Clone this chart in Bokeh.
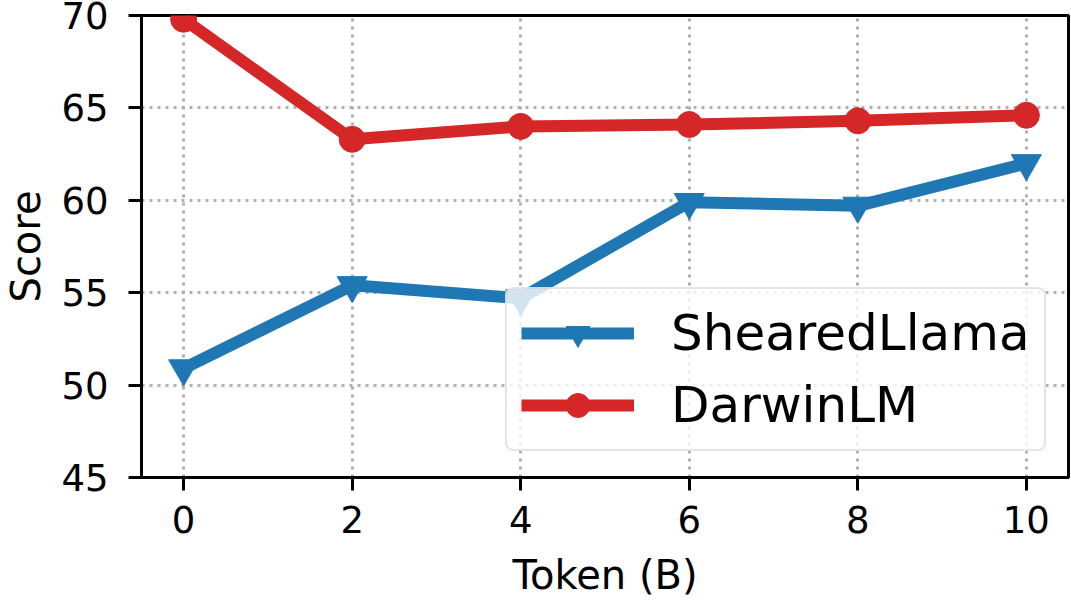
from bokeh.plotting import figure
from bokeh.models import Range1d, FixedTicker, Legend, LegendItem
from bokeh.embed import file_html
from bokeh.resources import INLINE

tokens = [0, 2, 4, 6, 8, 10]
sheared_llama = [50.9, 55.4, 54.7, 59.9, 59.7, 62.0]
darwin_lm = [69.8, 63.3, 64.0, 64.1, 64.3, 64.6]
x_ticks = [0, 2, 4, 6, 8, 10]
y_ticks = [45, 50, 55, 60, 65, 70]

FONT = "DejaVu Sans"
BLUE = "#1f77b4"
RED = "#d62728"

p = figure(width=1071, height=601, output_backend="svg", toolbar_location=None,
           x_range=Range1d(-0.5, 10.5), y_range=Range1d(45, 70),
           min_border_left=138, min_border_right=3, min_border_top=15, min_border_bottom=124)

p.background_fill_color = "white"
p.border_fill_color = "white"
p.outline_line_color = "black"
p.outline_line_width = 3

for ax in (p.xaxis[0], p.yaxis[0]):
    ax.axis_line_width = 3
    ax.axis_line_color = "black"
    ax.major_tick_line_width = 3
    ax.major_tick_line_color = "black"
    ax.major_tick_out = 13
    ax.major_tick_in = 0
    ax.minor_tick_line_color = None
    ax.major_label_text_font = FONT
    ax.major_label_text_font_size = "37px"
    ax.major_label_text_color = "black"
    ax.axis_label_text_font = FONT
    ax.axis_label_text_font_size = "40px"
    ax.axis_label_text_font_style = "normal"
    ax.axis_label_text_color = "black"

p.xaxis.ticker = FixedTicker(ticks=x_ticks)
p.yaxis.ticker = FixedTicker(ticks=y_ticks)
p.xaxis.axis_label = "Token (B)"
p.yaxis.axis_label = "Score"
p.xaxis.major_label_standoff = 15
p.yaxis.major_label_standoff = 20
p.xaxis.axis_label_standoff = 16
p.yaxis.axis_label_standoff = 9

for g in (p.xgrid[0], p.ygrid[0]):
    g.grid_line_color = "#b0b0b0"
    g.grid_line_width = 3
    g.grid_line_dash = "3 5"

l1 = p.line(tokens, sheared_llama, line_width=12, color=BLUE)
s1 = p.scatter(tokens, sheared_llama, marker="inverted_triangle", size=30, color=BLUE)
l2 = p.line(tokens, darwin_lm, line_width=12, color=RED)
s2 = p.scatter(tokens, darwin_lm, marker="circle", size=26, color=RED)

legend = Legend(items=[LegendItem(label="ShearedLlama", renderers=[l1, s1]),
                       LegendItem(label="DarwinLM", renderers=[l2, s2])],
                location=(364, 26), orientation="vertical")
legend.glyph_width = 113
legend.glyph_height = 60
legend.label_height = 60
legend.label_standoff = 37
legend.padding = 14
legend.spacing = 12
legend.margin = 0
legend.label_text_font = FONT
legend.label_text_font_size = "50px"
legend.label_text_color = "black"
legend.background_fill_color = "white"
legend.background_fill_alpha = 0.8
legend.border_line_color = "#cccccc"
legend.border_line_width = 2
legend.border_radius = 8
p.add_layout(legend)

open("out.html", "w").write(file_html(p, INLINE))
